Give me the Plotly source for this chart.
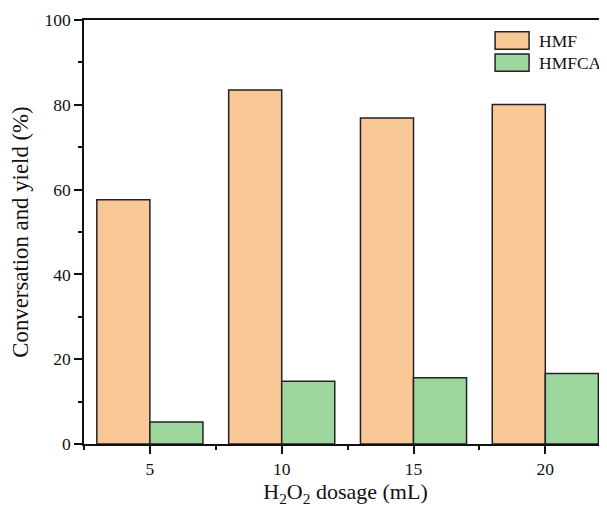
import plotly.graph_objects as go

dosage = [5, 10, 15, 20]
hmf = [57.6, 83.5, 76.9, 80.1]
hmfca = [5.2, 14.8, 15.6, 16.6]
series_names = ["HMF", "HMFCA"]
fill_colors = ["#F9C897", "#9ED79E"]
y_ticks = [0, 20, 40, 60, 80, 100]

FONT = "Liberation Serif, Times New Roman, serif"

fig = go.Figure()
for name, vals, col in zip(series_names, [hmf, hmfca], fill_colors):
    fig.add_trace(go.Bar(
        x=dosage, y=vals, name=name,
        marker=dict(color=col, line=dict(color="#222222", width=1.5)),
        showlegend=False,
    ))

# custom legend (large swatches)
sw_top = [0.972, 0.920]
for i, (name, col) in enumerate(zip(series_names, fill_colors)):
    y1 = sw_top[i]
    y0 = y1 - 0.041
    fig.add_shape(type="rect", xref="paper", yref="paper",
                  x0=0.786, x1=0.851, y0=y0, y1=y1,
                  fillcolor=col, line=dict(color="#222222", width=1.5))
    fig.add_annotation(xref="paper", yref="paper", x=0.866, y=(y0 + y1) / 2,
                       text=name, showarrow=False, xanchor="left", yanchor="middle",
                       font=dict(family=FONT, size=17.5, color="#111111"))

# page body has an 8px default margin: figure is sized/offset to compensate
fig.update_layout(
    width=599, height=504,
    margin=dict(l=76, r=0, t=12, b=68),
    paper_bgcolor="white", plot_bgcolor="white",
    barmode="group", bargap=0.195, bargroupgap=0,
    font=dict(family=FONT, size=17.5, color="#111111"),
)
fig.update_xaxes(
    range=[2.5, 22.34], automargin=False,
    tickmode="array", tickvals=dosage, ticktext=[str(d) for d in dosage],
    ticks="outside", ticklen=8, tickwidth=1.5, tickcolor="#111111",
    minor=dict(tickmode="array", tickvals=[2.5, 7.5, 12.5, 17.5, 22.5],
               ticks="outside", ticklen=4, tickwidth=1.5, tickcolor="#111111"),
    showline=True, linecolor="#111111", linewidth=1.5, mirror=True,
    showgrid=False, zeroline=False,
    tickfont=dict(family=FONT, size=17.5),
    title=dict(text="H<sub>2</sub>O<sub>2</sub> dosage (mL)", font=dict(family=FONT, size=22), standoff=6),
)
fig.update_yaxes(
    range=[0, 100], automargin=False,
    tickmode="array", tickvals=y_ticks, ticktext=[str(v) for v in y_ticks],
    ticks="outside", ticklen=8, tickwidth=1.5, tickcolor="#111111",
    minor=dict(tickmode="array", tickvals=[10, 30, 50, 70, 90],
               ticks="outside", ticklen=4, tickwidth=1.5, tickcolor="#111111"),
    showline=True, linecolor="#111111", linewidth=1.5, mirror=True,
    showgrid=False, zeroline=False,
    tickfont=dict(family=FONT, size=17.5),
    title=dict(text="Conversation and yield (%)", font=dict(family=FONT, size=22.8), standoff=10),
)

fig.write_html("out.html")
